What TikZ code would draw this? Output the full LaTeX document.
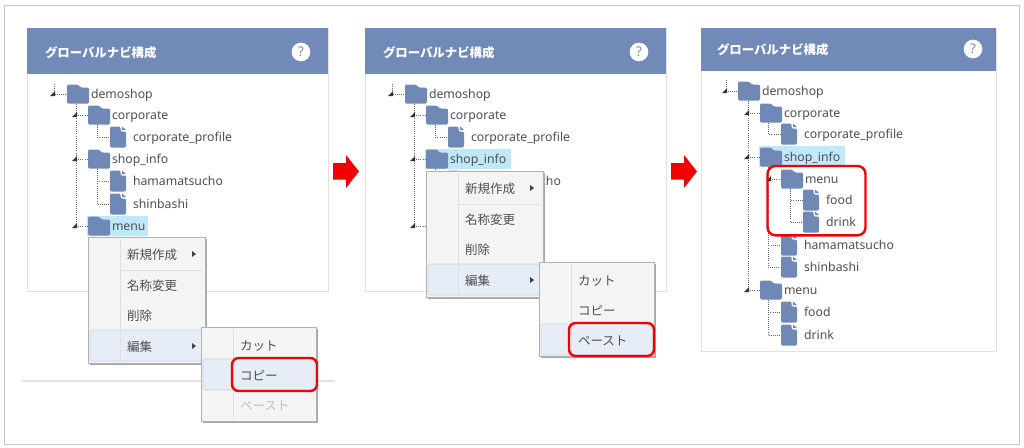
\documentclass[tikz,border=0pt]{standalone}
\usepackage{fontspec}
\setmainfont{Noto Sans}
\newfontfamily\jp{Noto Sans CJK JP}
\usetikzlibrary{shadows}
\definecolor{hdr}{HTML}{718AB7}
\definecolor{icon}{HTML}{6F88B5}
\definecolor{panelline}{HTML}{E2E2E2}
\definecolor{txt}{HTML}{4F4F4F}
\definecolor{sel}{HTML}{BFE9FB}
\definecolor{mbg}{HTML}{F4F4F4}
\definecolor{mhl}{HTML}{E6EDF6}
\definecolor{mhb}{HTML}{C6D6E6}
\definecolor{red0}{HTML}{F00000}
\tikzset{
  x=0.75pt,y=-0.75pt,
  every node/.style={inner sep=0pt,outer sep=0pt},
  panel/.style={draw=panelline,fill=white,line width=0.75pt,anchor=north west},
  header/.style={fill=hdr,anchor=north west},
  hdrtext/.style={anchor=west,yshift=-0.4pt,text=white,font=\jp\bfseries\fontsize{9.3}{11}\selectfont},
  helpdot/.style={circle,fill=white,minimum size=14pt,text=hdr,font=\bfseries\fontsize{10}{12}\selectfont},
  foldericon/.style={anchor=west,minimum width=16.5pt,minimum height=14.25pt,path picture={
    \fill[icon,rounded corners=1pt] (-11,-9.5)--(0,-9.5)--(2.5,-6.5)--(11,-6.5)--(11,9.5)--(-11,9.5)--cycle;}},
  fileicon/.style={anchor=west,minimum width=12pt,minimum height=15.75pt,path picture={
    \fill[icon,rounded corners=1pt] (-8,-10.5)--(2.5,-10.5)--(2.5,-5.5)--(8,-5.5)--(8,10.5)--(-8,10.5)--cycle;
    \fill[icon] (4,-10.5)--(8,-7)--(4,-7)--cycle;}},
  treetext/.style={anchor=west,yshift=-1pt,text=txt,text height=7pt,text depth=2pt,font=\fontsize{9.2}{11}\selectfont},
  treeline/.style={draw=black!60,line width=0.6pt,densely dotted},
  selbox/.style={fill=sel,anchor=north west},
  menubox/.style={fill=mbg,draw=black!30,line width=0.7pt,anchor=north west,
    general shadow={fill=black!35,shadow xshift=1.3pt,shadow yshift=-1.3pt}},
  hlbox/.style={fill=mhl,draw=mhb,line width=0.5pt,rounded corners=1.5pt,anchor=north west},
  menutext/.style={anchor=west,yshift=-0.6pt,text=txt,font=\jp\fontsize{9.4}{11}\selectfont},
  redbox/.style={draw=red0,line width=1.8pt,rounded corners=5pt,anchor=north west},
}
\newcommand\foldr[4]{\node[foldericon] (#1) at (#2,#3) {};\node[treetext] (#1-t) at ([xshift=1.5pt]#1.east) {#4};}
\newcommand\filei[4]{\node[fileicon] (#1) at (#2,#3) {};\node[treetext] (#1-t) at ([xshift=5.25pt]#1.east) {#4};}
\newcommand\jointat[3]{\coordinate (#1) at (#2,#3);}
\newcommand\jointmark[1]{\fill[black!80,shift={(#1)}] (-4,2)--(1,-3)--(1,2)--cycle;}
\newcommand\panelA[3]{%
  \begin{scope}[shift={(#2,0)}]
  \node[panel,minimum width=225.75pt,minimum height=197.25pt] (#1-panel) at (27,28) {};
  \node[header,minimum width=225.75pt,minimum height=34.5pt] (#1-head) at (27,28) {};
  \node[hdrtext] (#1-title) at (45,52) {グローバルナビ構成};
  \node[helpdot] (#1-help) at (301,52) {?};
  #3
  \foldr{#1-demo}{67}{94}{demoshop}
  \foldr{#1-corp}{88}{115}{corporate}
  \filei{#1-prof}{110}{137}{corporate\_profile}
  \foldr{#1-shop}{88}{159}{shop\_info}
  \filei{#1-hama}{110}{181}{hamamatsucho}
  \filei{#1-shin}{110}{204}{shinbashi}
  \foldr{#1-menu}{88}{226}{menu}
  \jointat{#1-j0}{54}{94}\jointat{#1-j1}{76}{115}\jointat{#1-j2}{76}{159}\jointat{#1-j3}{76}{226}
  \coordinate (#1-top) at (54,84);
  \draw[treeline] (#1-top) -- (#1-j0) -- (#1-demo.west);
  \draw[treeline] (#1-demo.south west -| #1-j1) -- (#1-j3);
  \draw[treeline] (#1-j1) -- (#1-corp.west);
  \draw[treeline] (#1-j2) -- (#1-shop.west);
  \draw[treeline] (#1-j3) -- (#1-menu.west);
  \draw[treeline] ([xshift=6.75pt]#1-corp.south west) |- (#1-prof.west);
  \draw[treeline] ([xshift=6.75pt]#1-shop.south west) |- (#1-hama.west);
  \draw[treeline] ([xshift=6.75pt]#1-shop.south west) |- (#1-shin.west);
  \jointmark{#1-j0}\jointmark{#1-j1}\jointmark{#1-j2}\jointmark{#1-j3}
  \end{scope}}
\newcommand\ctxmenu[6]{%
  \begin{scope}[shift={(#2,#3)}]
  \node[menubox,minimum width=87.75pt,minimum height=94.5pt] (#1-m) at (0,0) {};
  \node[hlbox,minimum width=84pt,minimum height=23.25pt] (#1-mh) at (2,93) {};
  \draw[black!12,line width=0.6pt] (32,2)--(32,124);
  \draw[black!12,line width=0.6pt] (33,33)--(114,33);
  \node[menutext] (#1-a) at (39,17) {新規作成};
  \node[menutext] (#1-b) at (39,48) {名称変更};
  \node[menutext] (#1-c) at (39,78) {削除};
  \node[menutext] (#1-d) at (39,109) {編集};
  \fill[black!75] (104,14)--(108,17)--(104,20)--cycle;
  \fill[black!75] (104,106)--(108,109)--(104,112)--cycle;
  \begin{scope}[shift={(113,#4)}]
  \node[menubox,minimum width=86.25pt,minimum height=70.5pt] (#1-s) at (0,0) {};
  \node[hlbox,minimum width=84pt,minimum height=23.25pt] (#1-sh) at (2,#5) {};
  \draw[black!12,line width=0.6pt] (32,2)--(32,92);
  \node[menutext] (#1-e) at (39,18) {カット};
  \node[menutext] (#1-f) at (39,48) {コピー};
  \node[menutext,text=#6] (#1-g) at (39,78) {ペースト};
  \end{scope}
  \end{scope}}
\begin{document}
\begin{tikzpicture}
\useasboundingbox (0,0) rectangle (1024,447);
\fill[white] (0,0) rectangle (1024,447);
\node[draw=black!22,line width=0.7pt,anchor=north west,minimum width=761.25pt,minimum height=329.25pt] (frame) at (4,5) {};
\coordinate (ruleL) at (22,381);
\coordinate (ruleR) at (335,381);
\draw[panelline,line width=0.8pt] (ruleL) -- (ruleR);

\panelA{a}{0}{\node[selbox,minimum width=45.75pt,minimum height=15pt] (a-sel) at (87,216) {};}
\ctxmenu{am}{88}{237}{90}{32}{black!25}
\node[redbox,minimum width=63.75pt,minimum height=24.75pt] (a-red) at (232,358) {};

\panelA{b}{338}{\node[selbox,minimum width=64.5pt,minimum height=15pt] (b-sel) at (87,149) {};}
\ctxmenu{bm}{426}{171}{91}{62}{txt}
\node[redbox,minimum width=63.75pt,minimum height=24.75pt] (b-red) at (569,323) {};

\node[panel,minimum width=221.25pt,minimum height=242.25pt] (c-panel) at (701,28) {};
\node[header,minimum width=221.25pt,minimum height=32.25pt] (c-head) at (701,28) {};
\node[hdrtext] (c-title) at (717,49) {グローバルナビ構成};
\node[helpdot] (c-help) at (973,49) {?};
\node[selbox,minimum width=64.5pt,minimum height=15.75pt] (c-sel) at (759,146) {};
\foldr{c-demo}{738}{91}{demoshop}
\foldr{c-corp}{760}{113}{corporate}
\filei{c-prof}{781}{134}{corporate\_profile}
\foldr{c-shop}{760}{157}{shop\_info}
\foldr{c-sub}{781}{179}{menu}
\filei{c-sfood}{803}{200}{food}
\filei{c-sdrink}{803}{222}{drink}
\filei{c-hama}{781}{245}{hamamatsucho}
\filei{c-shin}{781}{267}{shinbashi}
\foldr{c-menu}{760}{290}{menu}
\filei{c-food}{781}{312}{food}
\filei{c-drink}{781}{335}{drink}
\coordinate (c-top) at (726,80);
\jointat{c-j0}{726}{91}\jointat{c-j1}{748}{113}\jointat{c-j2}{748}{157}\jointat{c-j3}{748}{290}\jointat{c-j4}{770}{179}
\draw[treeline] (c-top) -- (c-j0) -- (c-demo.west);
\draw[treeline] (c-demo.south west -| c-j1) -- (c-j3);
\draw[treeline] (c-j1) -- (c-corp.west);
\draw[treeline] (c-j2) -- (c-shop.west);
\draw[treeline] (c-j3) -- (c-menu.west);
\draw[treeline] (c-j4) -- (c-sub.west);
\draw[treeline] ([xshift=6pt]c-corp.south west) |- (c-prof.west);
\draw[treeline] ([xshift=6pt]c-shop.south west) |- (c-shin.west);
\draw[treeline] ([xshift=6pt]c-shop.south west) |- (c-hama.west);
\draw[treeline] ([xshift=6.75pt]c-sub.south west) |- (c-sfood.west);
\draw[treeline] ([xshift=6.75pt]c-sub.south west) |- (c-sdrink.west);
\draw[treeline] ([xshift=6pt]c-menu.south west) |- (c-food.west);
\draw[treeline] ([xshift=6pt]c-menu.south west) |- (c-drink.west);
\jointmark{c-j0}\jointmark{c-j1}\jointmark{c-j2}\jointmark{c-j3}\jointmark{c-j4}
\node[redbox,rounded corners=6pt,minimum width=73.5pt,minimum height=52pt] (c-red) at (767.5,166) {};

\fill[red0] (333,163)--(346,163)--(346,155)--(359,171.5)--(346,188)--(346,179.5)--(333,179.5)--cycle;
\fill[red0] (671,163)--(684,163)--(684,155)--(697,171.5)--(684,188)--(684,179.5)--(671,179.5)--cycle;
\end{tikzpicture}
\end{document}
